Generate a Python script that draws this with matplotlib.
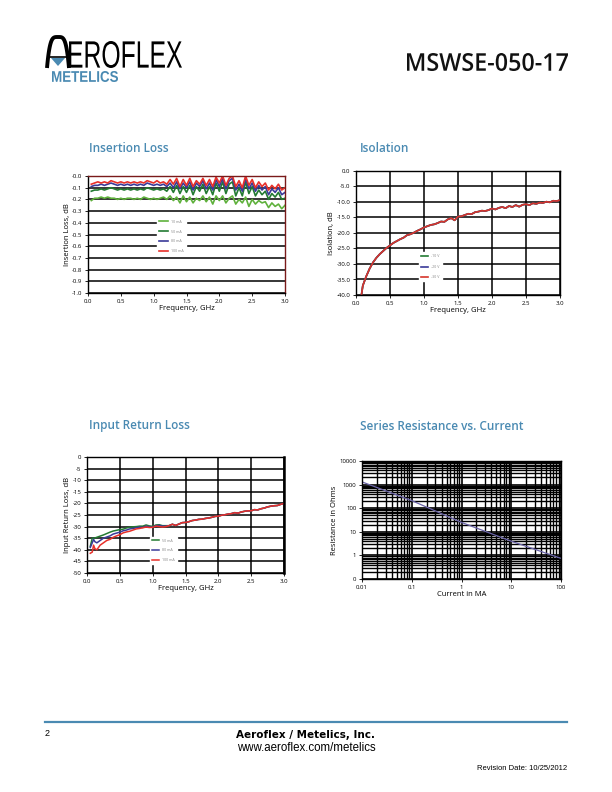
import numpy as np
import matplotlib
matplotlib.use("Agg")
import matplotlib.pyplot as plt
from matplotlib.textpath import TextPath
from matplotlib.font_manager import FontProperties
from matplotlib.patches import PathPatch, Polygon
from matplotlib.transforms import Affine2D

plt.rcParams['axes.unicode_minus'] = False
plt.rcParams['font.family'] = ['Open Sans', 'DejaVu Sans']

TITLE_BLUE = '#4a8ab2'

# ---- Insertion loss (dB) vs frequency (GHz) ----
il_freq = np.linspace(0.05, 3.0, 60)
il_labels = ['10 mA', '50 mA', '80 mA', '100 mA']
il_10ma = [-0.21, -0.19, -0.19, -0.18, -0.19, -0.18, -0.19, -0.19, -0.20, -0.19,
           -0.20, -0.19, -0.19, -0.20, -0.19, -0.20, -0.18, -0.19, -0.20, -0.19,
           -0.20, -0.19, -0.18, -0.20, -0.17, -0.21, -0.18, -0.23, -0.17, -0.22,
           -0.18, -0.23, -0.19, -0.21, -0.17, -0.22, -0.18, -0.24, -0.17, -0.21,
           -0.17, -0.23, -0.19, -0.17, -0.24, -0.20, -0.23, -0.18, -0.26, -0.20,
           -0.24, -0.21, -0.23, -0.22, -0.27, -0.23, -0.26, -0.24, -0.28, -0.25]
il_50ma = [-0.13, -0.12, -0.12, -0.11, -0.12, -0.11, -0.10, -0.11, -0.12, -0.11,
           -0.12, -0.11, -0.12, -0.11, -0.12, -0.11, -0.12, -0.10, -0.11, -0.12,
           -0.11, -0.12, -0.11, -0.13, -0.09, -0.14, -0.08, -0.15, -0.09, -0.14,
           -0.08, -0.16, -0.09, -0.13, -0.07, -0.15, -0.09, -0.16, -0.06, -0.13,
           -0.05, -0.15, -0.07, -0.05, -0.17, -0.10, -0.17, -0.05, -0.15, -0.09,
           -0.17, -0.12, -0.16, -0.13, -0.20, -0.15, -0.18, -0.14, -0.20, -0.19]
il_80ma = [-0.09, -0.08, -0.08, -0.07, -0.08, -0.07, -0.06, -0.07, -0.08, -0.07,
           -0.08, -0.07, -0.08, -0.07, -0.08, -0.07, -0.08, -0.06, -0.07, -0.08,
           -0.07, -0.08, -0.07, -0.09, -0.06, -0.10, -0.05, -0.11, -0.06, -0.10,
           -0.05, -0.12, -0.06, -0.09, -0.04, -0.11, -0.06, -0.12, -0.03, -0.09,
           -0.02, -0.11, -0.04, -0.02, -0.12, -0.07, -0.13, -0.02, -0.11, -0.06,
           -0.13, -0.08, -0.12, -0.09, -0.16, -0.11, -0.14, -0.10, -0.16, -0.14]
il_100ma = [-0.07, -0.06, -0.05, -0.06, -0.05, -0.06, -0.04, -0.05, -0.06, -0.05,
            -0.06, -0.05, -0.06, -0.05, -0.06, -0.05, -0.06, -0.04, -0.05, -0.06,
            -0.04, -0.06, -0.05, -0.07, -0.03, -0.07, -0.02, -0.09, -0.03, -0.08,
            -0.02, -0.09, -0.04, -0.07, -0.02, -0.08, -0.03, -0.09, -0.01, -0.06,
            0.00, -0.08, -0.02, 0.00, -0.09, -0.04, -0.10, 0.00, -0.08, -0.03,
            -0.10, -0.05, -0.09, -0.06, -0.12, -0.08, -0.11, -0.07, -0.12, -0.10]
il_colors = ['#5fb13c', '#237a32', '#3a3a98', '#e8302a']

# ---- Isolation (dB) ----
iso_freq = [0.08, 0.10, 0.15, 0.20, 0.25, 0.30, 0.35, 0.40, 0.45, 0.50,
            0.55, 0.60, 0.65, 0.70, 0.75, 0.80, 0.85, 0.90, 0.95, 1.00,
            1.05, 1.10, 1.15, 1.20, 1.25, 1.30, 1.35, 1.40, 1.45, 1.50,
            1.55, 1.60, 1.65, 1.70, 1.75, 1.80, 1.85, 1.90, 1.95, 2.00,
            2.05, 2.10, 2.15, 2.20, 2.25, 2.30, 2.35, 2.40, 2.45, 2.50,
            2.55, 2.60, 2.65, 2.70, 2.75, 2.80, 2.85, 2.90, 2.95, 3.00]
iso_db = [-40.0, -37.0, -34.0, -31.5, -29.5, -28.0, -26.8, -25.8, -24.8, -24.0,
          -23.2, -22.6, -22.0, -21.5, -20.7, -20.4, -19.9, -19.3, -18.8, -18.2,
          -17.8, -17.4, -17.2, -16.8, -16.3, -16.4, -15.6, -15.2, -15.9, -14.7,
          -14.6, -14.2, -13.8, -13.9, -13.3, -13.1, -12.8, -12.9, -12.6, -12.1,
          -12.4, -11.9, -11.6, -12.0, -11.3, -11.6, -11.0, -11.5, -10.9, -10.7,
          -11.0, -10.4, -10.6, -10.2, -10.3, -9.9, -10.1, -9.6, -9.7, -9.4]
iso_labels = ['-10 V', '-20 V', '-30 V']
iso_colors = ['#237a32', '#3a3a98', '#d6352b']

# ---- Input return loss (dB) ----
rl_freq = [0.05, 0.08, 0.10, 0.12, 0.15, 0.20, 0.25, 0.30, 0.35, 0.40,
           0.45, 0.50, 0.55, 0.60, 0.65, 0.70, 0.75, 0.80, 0.85, 0.90,
           0.95, 1.00, 1.05, 1.10, 1.15, 1.20,
           1.25, 1.30, 1.35, 1.40, 1.45, 1.50, 1.55, 1.60, 1.65, 1.70,
           1.75, 1.80, 1.85, 1.90, 1.95, 2.00, 2.05, 2.10, 2.15, 2.20,
           2.25, 2.30, 2.35, 2.40, 2.45, 2.50, 2.55, 2.60, 2.65, 2.70,
           2.75, 2.80, 2.85, 2.90, 2.95, 3.00]
rl_tail = [-29.6, -29.0, -29.5, -28.9, -28.3, -28.2, -27.9, -27.4, -27.2, -26.9,
           -26.8, -26.5, -26.3, -26.0, -25.6, -25.5, -25.1, -24.9, -24.6, -24.4,
           -24.0, -24.2, -23.7, -23.4, -23.2, -23.2, -22.7, -22.8, -22.3, -22.0,
           -21.5, -21.2, -21.0, -20.9, -20.4, -20.0]
rl_50ma = [-38.5, -35.0, -35.0, -34.9, -34.6, -34.1, -33.6, -33.0, -32.4, -31.9,
           -31.6, -31.3, -31.1, -30.6, -30.3, -30.1, -30.0, -29.8, -29.8, -29.3,
           -29.7, -29.9, -29.3, -29.2, -29.6, -29.6] + rl_tail
rl_80ma = [-39.0, -37.0, -35.5, -36.5, -37.0, -36.0, -35.0, -34.5, -34.0, -33.2,
           -32.8, -32.4, -31.8, -31.5, -31.0, -30.8, -30.5, -30.2, -30.4, -29.8,
           -30.1, -30.2, -29.6, -29.5, -29.8, -29.8] + rl_tail
rl_100ma = [-41.5, -41.0, -38.0, -39.5, -40.0, -38.0, -37.0, -36.0, -35.5, -34.6,
            -34.0, -33.5, -32.7, -32.3, -32.0, -31.5, -31.0, -30.8, -30.5, -30.2,
            -30.4, -30.3, -29.8, -30.0, -30.2, -30.0] + rl_tail
rl_labels = ['50 mA', '80 mA', '100 mA']
rl_colors = ['#237a32', '#3a3a98', '#e8302a']

# ---- Series resistance vs current ----
current_ma = [0.01, 0.1, 1, 10, 100]
resistance_ohm = [1300, 210, 25, 4, 0.75]
res_yticks = [0.1, 1, 10, 100, 1000, 10000]
res_ylabels = ['0', '1', '10', '100', '1000', '10000']
res_xticks = [0.01, 0.1, 1, 10, 100]
res_xlabels = ['0.01', '0.1', '1', '10', '100']

fig = plt.figure(figsize=(6.12, 7.92), dpi=100)

# page overlay in pixel coordinates for header / footer
page = fig.add_axes([0, 0, 1, 1])
page.set_xlim(0, 612)
page.set_ylim(792, 0)
page.axis('off')


def fit_text(s, x0, y0, x1, y1, color, weight='bold', family='DejaVu Sans'):
    tp = TextPath((0, 0), s, size=10, prop=FontProperties(family=family, weight=weight))
    bb = tp.get_extents()
    tr = Affine2D().translate(-bb.x0, -bb.y0).scale((x1 - x0) / bb.width, -(y1 - y0) / bb.height).translate(x0, y1)
    page.add_patch(PathPatch(tr.transform_path(tp), color=color, lw=0))


# logo
t = np.linspace(0, 1, 50)
arch_x = 47 + 22 * t
arch_y = 68 - 31 * (1 - (2 * t - 1) ** 4)
page.plot(arch_x, arch_y, color='black', lw=2.8, solid_capstyle='butt')
page.plot([49, 67], [57, 57], color='black', lw=1.2)
page.add_patch(Polygon([[51, 58], [65, 58], [58, 66]], closed=True, color=TITLE_BLUE, lw=0))
fit_text('EROFLEX', 69, 41, 182, 68, 'black', weight='normal', family='Liberation Sans')
fit_text('METELICS', 52, 71, 118, 82, TITLE_BLUE, family='Liberation Sans')
fit_text('MSWSE-050-17', 407, 53, 568, 71, '#111111', weight='semibold', family='Open Sans')

# footer
page.plot([45, 567], [722, 722], color=TITLE_BLUE, lw=1.6)
page.text(45, 733, '2', fontsize=6.5, family='Liberation Sans', va='center')
page.text(306, 735, 'Aeroflex / Metelics, Inc.', fontsize=7.5, weight='bold', family='DejaVu Sans',
          ha='center', va='center')
page.text(306, 748, 'www.aeroflex.com/metelics', fontsize=8.3, family='Liberation Sans',
          ha='center', va='center')
page.text(567, 769, 'Revision Date: 10/25/2012', fontsize=5.5, family='Liberation Sans',
          ha='right', va='center')

# chart titles
for x, y, s in [(89, 149, 'Insertion Loss'), (360, 149, 'Isolation'),
                (89, 426, 'Input Return Loss'), (360, 426, 'Series Resistance vs. Current')]:
    page.text(x, y, s, fontsize=8.5, weight='semibold', color=TITLE_BLUE, va='center')

TICK_FS = 4.3
LABEL_FS = 5.5


def style_axes(ax):
    ax.tick_params(labelsize=TICK_FS, length=2, width=0.6, pad=2)
    for sp in ax.spines.values():
        sp.set_linewidth(1.0)


# Insertion loss
ax1 = fig.add_axes([88 / 612, 1 - 293 / 792, 197 / 612, 117 / 792])
for y, lab, c in zip([il_10ma, il_50ma, il_80ma, il_100ma], il_labels, il_colors):
    ax1.plot(il_freq, y, color=c, lw=1.2, label=lab)
ax1.set_xlim(0, 3)
ax1.set_ylim(-1, 0)
ax1.set_xticks(np.arange(0, 3.01, 0.5))
ax1.set_xticklabels(['0.0', '0.5', '1.0', '1.5', '2.0', '2.5', '3.0'])
ax1.set_yticks(np.arange(-1, 0.01, 0.1))
ax1.set_yticklabels(['%.1f' % v for v in np.arange(-1, 0.01, 0.1)])
ax1.yaxis.grid(True, color='black', lw=1.1)
ax1.set_axisbelow(True)
style_axes(ax1)
ax1.spines['top'].set_color('#7a1a1a')
ax1.spines['right'].set_color('#7a1a1a')
ax1.set_xlabel('Frequency, GHz', fontsize=LABEL_FS, labelpad=1)
ax1.set_ylabel('Insertion Loss, dB', fontsize=LABEL_FS, labelpad=1)
leg = ax1.legend(loc='upper left', bbox_to_anchor=(0.34, 0.66), fontsize=2.6, frameon=True,
                 facecolor='white', edgecolor='white', framealpha=1, handlelength=2.5,
                 labelspacing=1.6, borderpad=0.6)
for txt in leg.get_texts():
    txt.set_color('#888888')

# Isolation
ax2 = fig.add_axes([356 / 612, 1 - 295 / 792, 204 / 612, 124 / 792])
for lab, c in zip(iso_labels, iso_colors):
    ax2.plot(iso_freq, iso_db, color=c, lw=1.2, label=lab)
ax2.set_xlim(0, 3)
ax2.set_ylim(-40, 0)
ax2.set_xticks(np.arange(0, 3.01, 0.5))
ax2.set_xticklabels(['0.0', '0.5', '1.0', '1.5', '2.0', '2.5', '3.0'])
ax2.set_yticks(np.arange(-40, 0.1, 5))
ax2.set_yticklabels(['%.1f' % v for v in np.arange(-40, 0.1, 5)])
ax2.grid(True, color='black', lw=1.1)
ax2.set_axisbelow(True)
style_axes(ax2)
ax2.set_xlabel('Frequency, GHz', fontsize=LABEL_FS, labelpad=1)
ax2.set_ylabel('Isolation, dB', fontsize=LABEL_FS, labelpad=1)
leg = ax2.legend(loc='upper left', bbox_to_anchor=(0.30, 0.36), fontsize=2.6, frameon=True,
                 facecolor='white', edgecolor='white', framealpha=1, handlelength=2.0,
                 labelspacing=1.8, borderpad=0.6)
for txt in leg.get_texts():
    txt.set_color('#888888')

# Input return loss
ax3 = fig.add_axes([87 / 612, 1 - 573 / 792, 197 / 612, 116 / 792])
for y, lab, c in zip([rl_50ma, rl_80ma, rl_100ma], rl_labels, rl_colors):
    ax3.plot(rl_freq, y, color=c, lw=1.1, label=lab)
ax3.set_xlim(0, 3)
ax3.set_ylim(-50, 0)
ax3.set_xticks(np.arange(0, 3.01, 0.5))
ax3.set_xticklabels(['0.0', '0.5', '1.0', '1.5', '2.0', '2.5', '3.0'])
ax3.set_yticks(np.arange(-50, 0.1, 5))
ax3.set_yticklabels(['%d' % v for v in np.arange(-50, 0.1, 5)])
ax3.grid(True, color='black', lw=1.1)
ax3.set_axisbelow(True)
style_axes(ax3)
ax3.spines['right'].set_linewidth(1.8)
ax3.set_xlabel('Frequency, GHz', fontsize=LABEL_FS, labelpad=1)
ax3.set_ylabel('Input Return Loss, dB', fontsize=LABEL_FS, labelpad=1)
leg = ax3.legend(loc='upper left', bbox_to_anchor=(0.31, 0.33), fontsize=2.6, frameon=True,
                 facecolor='white', edgecolor='white', framealpha=1, handlelength=2.0,
                 labelspacing=1.6, borderpad=0.6)
for txt in leg.get_texts():
    txt.set_color('#888888')

# Series resistance
ax4 = fig.add_axes([362 / 612, 1 - 579 / 792, 199 / 612, 118 / 792])
ax4.plot(current_ma, resistance_ohm, color='#6a64a8', lw=0.9)
ax4.set_xscale('log')
ax4.set_yscale('log')
ax4.set_xlim(0.01, 100)
ax4.set_ylim(0.1, 10000)
ax4.set_xticks(res_xticks)
ax4.set_xticklabels(res_xlabels)
ax4.set_yticks(res_yticks)
ax4.set_yticklabels(res_ylabels)
ax4.minorticks_on()
ax4.tick_params(which='minor', length=0, labelleft=False, labelbottom=False)
ax4.grid(True, which='major', color='black', lw=1.2)
ax4.grid(True, which='minor', color='black', lw=1.0)
ax4.set_axisbelow(True)
style_axes(ax4)
ax4.set_xlabel('Current in MA', fontsize=LABEL_FS, labelpad=1)
ax4.set_ylabel('Resistance in Ohms', fontsize=LABEL_FS, labelpad=1)

fig.savefig('out.png', dpi=100)
